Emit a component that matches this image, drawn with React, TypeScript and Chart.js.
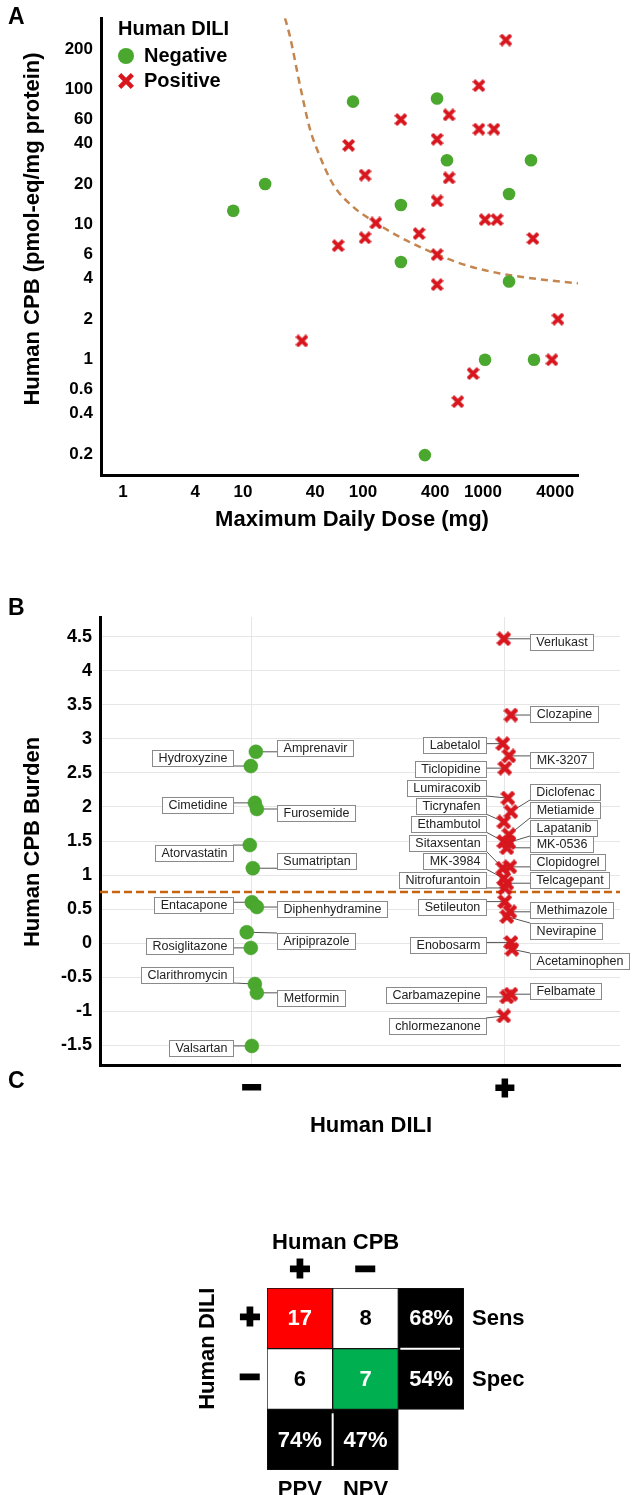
import React, { useEffect, useRef } from 'react';
import { Chart, registerables } from 'chart.js';

Chart.register(...registerables);

const FONT = '"Liberation Sans", Arial, Helvetica, sans-serif';
const GREEN = '#4ba82e';
const RED = '#d7161e';
const CURVE_A = '#c4864e';
const THRESH_B = '#c8640f';

// ---------- Panel A data ----------
const A_X_TICKS = [1, 4, 10, 40, 100, 400, 1000, 4000];
const A_Y_TICKS = [0.2, 0.4, 0.6, 1, 2, 4, 6, 10, 20, 40, 60, 100, 200];
const A_NEG_DOSE = [8.3, 15.3, 82.6, 414, 501, 2512, 1648, 207, 207, 1648, 1040, 2660, 328];
const A_NEG_CPB = [12.7, 20, 81.5, 86, 30, 30, 16.9, 14, 5.3, 3.8, 1.0, 1.0, 0.197];
const A_POS_DOSE = [1550, 926, 207, 521, 926, 1235, 76, 414, 104, 521, 414, 1040, 1309, 128, 104, 62, 293, 2610, 414, 414, 31, 4217, 3758, 826, 617];
const A_POS_CPB = [233, 107, 60, 65, 51, 51, 38.7, 42.9, 23.3, 22.2, 15, 10.9, 10.9, 10.3, 8.0, 7.0, 8.6, 7.9, 6.0, 3.6, 1.38, 2.0, 1.0, 0.79, 0.49];
const A_CURVE_DOSE = [22.4, 24.6, 29.9, 36.2, 41.4, 56.2, 82.5, 131, 215, 414, 779, 1386, 2985, 6190];
const A_CURVE_CPB = [338, 249, 107, 50.8, 36.2, 20.0, 13.6, 10.2, 7.89, 6.02, 4.91, 4.36, 3.94, 3.68];

// ---------- Panel B data ----------
const B_Y_TICKS = [-1.5, -1, -0.5, 0, 0.5, 1, 1.5, 2, 2.5, 3, 3.5, 4, 4.5];
const B_CATEGORIES = ['\u2212', '+'];
const B_THRESHOLD = 0.75;
const B_NEG_NAMES = ['Amprenavir', 'Hydroxyzine', 'Cimetidine', 'Furosemide', 'Atorvastatin', 'Sumatriptan', 'Entacapone', 'Diphenhydramine', 'Aripiprazole', 'Rosiglitazone', 'Clarithromycin', 'Metformin', 'Valsartan'];
const B_NEG_BURDEN = [2.81, 2.60, 2.06, 1.97, 1.44, 1.10, 0.60, 0.53, 0.16, -0.07, -0.60, -0.73, -1.51];
const B_NEG_JITTER = [0.016, -0.004, 0.012, 0.02, -0.008, 0.004, 0, 0.02, -0.02, -0.004, 0.012, 0.02, 0];
const B_POS_NAMES = ['Verlukast', 'Clozapine', 'Labetalol', 'MK-3207', 'Ticlopidine', 'Lumiracoxib', 'Diclofenac', 'Ticrynafen', 'Metiamide', 'Ethambutol', 'Lapatanib', 'MK-0536', 'Sitaxsentan', 'Clopidogrel', 'MK-3984', 'Telcagepant', 'Nitrofurantoin', 'Setileuton', 'Methimazole', 'Nevirapine', 'Enobosarm', 'Acetaminophen', 'Carbamazepine', 'Felbamate', 'chlormezanone'];
const B_POS_BURDEN = [4.47, 3.35, 2.93, 2.75, 2.57, 2.13, 1.93, 1.78, 1.59, 1.49, 1.48, 1.40, 1.10, 1.12, 0.95, 0.88, 0.81, 0.61, 0.46, 0.39, 0.01, -0.09, -0.79, -0.75, -1.07];
const B_POS_JITTER = [-0.004, 0.024, -0.008, 0.016, 0, 0.012, 0.024, -0.004, 0.016, -0.004, 0.016, 0.008, -0.008, 0.02, -0.004, 0.008, 0, 0, 0.02, 0.008, 0.024, 0.028, 0.008, 0.024, -0.004];

// label placement (layout, not data)
const B_NEG_LABEL_SIDE = ['R', 'L', 'L', 'R', 'L', 'R', 'L', 'R', 'R', 'L', 'L', 'R', 'L'];
const B_NEG_LABEL_Y = [2.87, 2.72, 2.03, 1.91, 1.32, 1.21, 0.56, 0.50, 0.03, -0.04, -0.47, -0.81, -1.54];
const B_POS_LABEL_SIDE = ['R', 'R', 'L', 'R', 'L', 'L', 'R', 'L', 'R', 'L', 'R', 'R', 'L', 'R', 'L', 'R', 'L', 'L', 'R', 'R', 'L', 'R', 'L', 'R', 'L'];
const B_POS_LABEL_Y = [4.43, 3.37, 2.91, 2.69, 2.56, 2.28, 2.22, 2.01, 1.96, 1.75, 1.69, 1.46, 1.47, 1.19, 1.21, 0.93, 0.93, 0.53, 0.49, 0.18, -0.03, -0.26, -0.76, -0.71, -1.22];

// ---------- Panel C data ----------
const C_COL_HEADERS = ['+', '\u2212'];
const C_ROW_HEADERS = ['+', '\u2212'];
const C_COUNTS = [[17, 8], [6, 7]];
const C_ROW_METRICS = ['68%', '54%'];
const C_ROW_METRIC_NAMES = ['Sens', 'Spec'];
const C_COL_METRICS = ['74%', '47%'];
const C_COL_METRIC_NAMES = ['PPV', 'NPV'];

function makeCross(size: number, thick: number, color: string) {
  const c = document.createElement('canvas');
  c.width = size;
  c.height = size;
  const ctx = c.getContext('2d')!;
  ctx.strokeStyle = color;
  ctx.lineWidth = thick;
  ctx.lineCap = 'butt';
  const m = thick * 0.36;
  ctx.beginPath();
  ctx.moveTo(m, m);
  ctx.lineTo(size - m, size - m);
  ctx.moveTo(size - m, m);
  ctx.lineTo(m, size - m);
  ctx.stroke();
  return c;
}

function boldSymbol(ctx: CanvasRenderingContext2D, s: string, x: number, y: number, size: number) {
  ctx.save();
  ctx.font = `bold ${size}px ${FONT}`;
  ctx.textAlign = 'center';
  ctx.textBaseline = 'middle';
  ctx.fillStyle = '#000';
  ctx.strokeStyle = '#000';
  ctx.lineWidth = 3;
  ctx.lineJoin = 'miter';
  ctx.fillText(s, x, y);
  ctx.strokeText(s, x, y);
  ctx.restore();
}

function ChartCanvas({ top, height, make }: { top: number; height: number; make: (c: HTMLCanvasElement) => Chart }) {
  const ref = useRef<HTMLCanvasElement>(null);
  useEffect(() => {
    const chart = make(ref.current!);
    return () => chart.destroy();
  }, []);
  return (
    <canvas
      ref={ref}
      width={633}
      height={height}
      style={{ position: 'absolute', left: 0, top, width: 633, height, display: 'block' }}
    />
  );
}

// ---------------- Panel A ----------------
function makeA(canvas: HTMLCanvasElement) {
  const crossA = makeCross(13, 4, RED);
  const crossLegend = makeCross(16, 4.5, RED);
  const plugin = {
    id: 'panelA',
    afterDraw(chart: any) {
      const ctx = chart.ctx as CanvasRenderingContext2D;
      ctx.save();
      ctx.fillStyle = '#000';
      ctx.font = `bold 23px ${FONT}`;
      ctx.textAlign = 'left';
      ctx.textBaseline = 'alphabetic';
      ctx.fillText('A', 8, 24);
      // y title
      ctx.save();
      ctx.translate(33, 229);
      ctx.rotate(-Math.PI / 2);
      ctx.font = `bold 22px ${FONT}`;
      ctx.textAlign = 'center';
      ctx.textBaseline = 'middle';
      ctx.fillText('Human CPB (pmol-eq/mg protein)', 0, 0);
      ctx.restore();
      // x title
      ctx.font = `bold 22px ${FONT}`;
      ctx.textAlign = 'center';
      ctx.textBaseline = 'middle';
      ctx.fillText('Maximum Daily Dose (mg)', 352, 520);
      // legend
      ctx.textAlign = 'left';
      ctx.font = `bold 20px ${FONT}`;
      ctx.fillText('Human DILI', 118, 29);
      ctx.fillStyle = GREEN;
      ctx.beginPath();
      ctx.arc(126, 56, 8, 0, Math.PI * 2);
      ctx.fill();
      ctx.drawImage(crossLegend, 126 - 8, 81 - 8);
      ctx.fillStyle = '#000';
      ctx.fillText('Negative', 144, 56);
      ctx.fillText('Positive', 144, 81);
      ctx.restore();
    },
  };
  const tickFont = { family: FONT, size: 17, weight: 'bold' as const };
  return new Chart(canvas, {
    type: 'scatter',
    data: {
      datasets: [
        {
          label: 'threshold',
          data: A_CURVE_DOSE.map((x, i) => ({ x, y: A_CURVE_CPB[i] })),
          showLine: true,
          borderColor: CURVE_A,
          borderWidth: 2.5,
          borderDash: [7, 5],
          pointRadius: 0,
          cubicInterpolationMode: 'monotone',
          order: 5,
        } as any,
        {
          label: 'Negative',
          data: A_NEG_DOSE.map((x, i) => ({ x, y: A_NEG_CPB[i] })),
          pointStyle: 'circle',
          pointRadius: 6.3,
          backgroundColor: GREEN,
          borderColor: GREEN,
          borderWidth: 0,
          order: 1,
        },
        {
          label: 'Positive',
          data: A_POS_DOSE.map((x, i) => ({ x, y: A_POS_CPB[i] })),
          pointStyle: crossA as any,
          pointRadius: 7,
          order: 0,
        },
      ],
    },
    options: {
      responsive: false,
      animation: false,
      events: [],
      layout: { padding: { top: 15, right: 55, left: 0, bottom: 0 } },
      plugins: { legend: { display: false }, tooltip: { enabled: false } },
      scales: {
        x: {
          type: 'logarithmic',
          min: 0.656,
          max: 6190,
          afterBuildTicks: (ax: any) => {
            ax.ticks = A_X_TICKS.map((v) => ({ value: v }));
          },
          afterFit: (s: any) => {
            s.height = 85;
          },
          ticks: { font: tickFont, color: '#000', padding: 7, autoSkip: false, maxRotation: 0, callback: (v: any) => String(v) },
          grid: { display: false, drawTicks: false },
          border: { display: true, color: '#000', width: 3 },
        },
        y: {
          type: 'logarithmic',
          min: 0.1403,
          max: 338,
          afterBuildTicks: (ax: any) => {
            ax.ticks = A_Y_TICKS.map((v) => ({ value: v }));
          },
          afterFit: (s: any) => {
            s.width = 101;
          },
          ticks: { font: tickFont, color: '#000', padding: 8, autoSkip: false, callback: (v: any) => String(v) },
          grid: { display: false, drawTicks: false },
          border: { display: true, color: '#000', width: 3 },
        },
      },
    },
    plugins: [plugin],
  } as any);
}

// ---------------- Panel B ----------------
function makeB(canvas: HTMLCanvasElement) {
  const crossB = makeCross(15, 4.6, RED);
  const plugin = {
    id: 'panelB',
    beforeDatasetsDraw(chart: any) {
      const ctx = chart.ctx as CanvasRenderingContext2D;
      const xs = chart.scales.x;
      const ys = chart.scales.y;
      ctx.save();
      ctx.font = `12.5px ${FONT}`;
      ctx.textBaseline = 'middle';
      const groups = [
        { ds: 1, names: B_NEG_NAMES, sides: B_NEG_LABEL_SIDE, ly: B_NEG_LABEL_Y, cat: 0 },
        { ds: 2, names: B_POS_NAMES, sides: B_POS_LABEL_SIDE, ly: B_POS_LABEL_Y, cat: 1 },
      ];
      for (const g of groups) {
        const meta = chart.getDatasetMeta(g.ds);
        const cx = xs.getPixelForValue(g.cat);
        g.names.forEach((name, i) => {
          const el = meta.data[i];
          const w = Math.round(ctx.measureText(name).width + 12);
          const h = 16;
          const yc = ys.getPixelForValue(g.ly[i]);
          const L = Math.round(g.sides[i] === 'L' ? cx - 19 - w : cx + 25);
          const T = Math.round(yc - h / 2);
          const nx = Math.max(L, Math.min(el.x, L + w));
          const ny = Math.max(T, Math.min(el.y, T + h));
          ctx.strokeStyle = '#555';
          ctx.lineWidth = 1;
          ctx.beginPath();
          ctx.moveTo(el.x, el.y);
          ctx.lineTo(nx, ny);
          ctx.stroke();
          ctx.fillStyle = '#fff';
          ctx.fillRect(L, T, w, h);
          ctx.strokeStyle = '#8a8a8a';
          ctx.strokeRect(L + 0.5, T + 0.5, w, h);
          ctx.fillStyle = '#222';
          ctx.textAlign = 'center';
          ctx.fillText(name, L + w / 2 + 0.5, T + h / 2 + 1);
        });
      }
      ctx.restore();
    },
    afterDraw(chart: any) {
      const ctx = chart.ctx as CanvasRenderingContext2D;
      ctx.save();
      ctx.fillStyle = '#000';
      ctx.font = `bold 23px ${FONT}`;
      ctx.textAlign = 'left';
      ctx.textBaseline = 'alphabetic';
      ctx.fillText('B', 8, 25);
      ctx.save();
      ctx.translate(33, 252);
      ctx.rotate(-Math.PI / 2);
      ctx.font = `bold 22px ${FONT}`;
      ctx.textAlign = 'center';
      ctx.textBaseline = 'middle';
      ctx.fillText('Human CPB Burden', 0, 0);
      ctx.restore();
      ctx.font = `bold 22px ${FONT}`;
      ctx.textAlign = 'center';
      ctx.textBaseline = 'middle';
      ctx.fillText('Human DILI', 371, 536);
      ctx.restore();
    },
  };
  return new Chart(canvas, {
    type: 'scatter',
    data: {
      datasets: [
        {
          label: 'threshold',
          data: [
            { x: -0.6, y: B_THRESHOLD },
            { x: 1.47, y: B_THRESHOLD },
          ],
          showLine: true,
          borderColor: THRESH_B,
          borderWidth: 2.5,
          borderDash: [8, 4],
          pointRadius: 0,
          order: 5,
        } as any,
        {
          label: 'Negative',
          data: B_NEG_BURDEN.map((y, i) => ({ x: 0 + B_NEG_JITTER[i], y })),
          pointStyle: 'circle',
          pointRadius: 7,
          backgroundColor: GREEN,
          borderColor: '#45a02a',
          borderWidth: 0.5,
          order: 1,
        },
        {
          label: 'Positive',
          data: B_POS_BURDEN.map((y, i) => ({ x: 1 + B_POS_JITTER[i], y })),
          pointStyle: crossB as any,
          pointRadius: 7,
          order: 0,
        },
      ],
    },
    options: {
      responsive: false,
      animation: false,
      events: [],
      layout: { padding: { top: 27, right: 13, left: 0, bottom: 0 } },
      plugins: { legend: { display: false }, tooltip: { enabled: false } },
      scales: {
        x: {
          type: 'linear',
          min: -0.6,
          max: 1.455,
          afterBuildTicks: (ax: any) => {
            ax.ticks = B_CATEGORIES.map((_, i) => ({ value: i }));
          },
          afterFit: (s: any) => {
            s.height = 75;
          },
          ticks: {
            font: { family: FONT, size: 32, weight: 'bold' },
            color: '#000',
            textStrokeColor: '#000',
            textStrokeWidth: 3,
            padding: 5,
            autoSkip: false,
            maxRotation: 0,
            callback: (v: any) => B_CATEGORIES[Math.round(v)] ?? '',
          },
          grid: { display: true, drawTicks: false, color: '#e6e6e6', lineWidth: 1 },
          border: { display: true, color: '#000', width: 3 },
        },
        y: {
          type: 'linear',
          min: -1.79,
          max: 4.79,
          afterBuildTicks: (ax: any) => {
            ax.ticks = B_Y_TICKS.map((v) => ({ value: v }));
          },
          afterFit: (s: any) => {
            s.width = 100;
          },
          ticks: { font: { family: FONT, size: 18, weight: 'bold' }, color: '#000', padding: 8, autoSkip: false, callback: (v: any) => String(v) },
          grid: { display: true, drawTicks: false, color: '#e6e6e6', lineWidth: 1 },
          border: { display: true, color: '#000', width: 3 },
        },
      },
    },
    plugins: [plugin],
  } as any);
}

// ---------------- Panel C ----------------
function makeC(canvas: HTMLCanvasElement) {
  const RED_CELL = '#ff0000';
  const GREEN_CELL = '#00b050';
  const rows = [
    { vals: [String(C_COUNTS[0][0]), String(C_COUNTS[0][1]), C_ROW_METRICS[0]], colors: [RED_CELL, '#ffffff', '#000000'] },
    { vals: [String(C_COUNTS[1][0]), String(C_COUNTS[1][1]), C_ROW_METRICS[1]], colors: ['#ffffff', GREEN_CELL, '#000000'] },
    { vals: [C_COL_METRICS[0], C_COL_METRICS[1], ''], colors: ['#000000', '#000000', '#000000'] },
  ];
  const plugin = {
    id: 'panelC',
    afterDatasetsDraw(chart: any) {
      const ctx = chart.ctx as CanvasRenderingContext2D;
      const xs = chart.scales.x;
      const ys = chart.scales.y;
      const area = chart.chartArea;
      const colW = area.width / 3;
      ctx.save();
      // cell texts
      ctx.font = `bold 22px ${FONT}`;
      ctx.textAlign = 'center';
      ctx.textBaseline = 'middle';
      rows.forEach((r, ri) => {
        const meta = chart.getDatasetMeta(ri);
        r.vals.forEach((v, ci) => {
          const el = meta.data[ci];
          if (!v || !el) return;
          ctx.fillStyle = r.colors[ci] === '#ffffff' ? '#000' : '#fff';
          ctx.fillText(v, el.x, (el.y + el.base) / 2 + 1);
        });
      });
      // white separators
      ctx.strokeStyle = '#fff';
      ctx.lineWidth = 2;
      const c2 = xs.getPixelForValue(2);
      const yMid = ys.getPixelForValue(1);
      ctx.beginPath();
      ctx.moveTo(c2 - colW / 2 + 2, yMid);
      ctx.lineTo(c2 + colW / 2 - 4, yMid);
      ctx.stroke();
      const xMid = (xs.getPixelForValue(0) + xs.getPixelForValue(1)) / 2;
      ctx.beginPath();
      ctx.moveTo(xMid, ys.getPixelForValue(2) + 4);
      ctx.lineTo(xMid, ys.getPixelForValue(3) - 4);
      ctx.stroke();
      // headers
      C_COL_HEADERS.forEach((h, i) => boldSymbol(ctx, h, xs.getPixelForValue(i), area.top - 17, 34));
      C_ROW_HEADERS.forEach((h, i) => boldSymbol(ctx, h, area.left - 17, ys.getPixelForValue(i + 0.5), 34));
      ctx.fillStyle = '#000';
      ctx.font = `bold 22px ${FONT}`;
      ctx.textAlign = 'center';
      ctx.fillText('Human CPB', (xs.getPixelForValue(0) + xs.getPixelForValue(1)) / 2 + 3, area.top - 45);
      ctx.save();
      ctx.translate(area.left - 59, ys.getPixelForValue(1));
      ctx.rotate(-Math.PI / 2);
      ctx.fillText('Human DILI', 0, 0);
      ctx.restore();
      ctx.textAlign = 'left';
      C_ROW_METRIC_NAMES.forEach((n, i) => ctx.fillText(n, area.right + 8, ys.getPixelForValue(i + 0.5) + 1));
      ctx.textAlign = 'center';
      C_COL_METRIC_NAMES.forEach((n, i) => ctx.fillText(n, xs.getPixelForValue(i), area.bottom + 20));
      // panel letter
      ctx.textAlign = 'left';
      ctx.textBaseline = 'alphabetic';
      ctx.font = `bold 23px ${FONT}`;
      ctx.fillText('C', 8, 28);
      ctx.restore();
    },
  };
  const common = { grouped: false, barPercentage: 1, categoryPercentage: 1, borderWidth: 1, borderColor: '#111', borderSkipped: false };
  return new Chart(canvas, {
    type: 'bar',
    data: {
      labels: ['c0', 'c1', 'c2'],
      datasets: rows.map((r, ri) => ({
        ...common,
        label: 'row' + ri,
        data: r.vals.map((v) => (v ? [ri, ri + 1] : null)),
        backgroundColor: r.colors,
      })),
    },
    options: {
      responsive: false,
      animation: false,
      events: [],
      layout: { padding: { left: 267, right: 169, top: 228, bottom: 25 } },
      plugins: { legend: { display: false }, tooltip: { enabled: false } },
      scales: {
        x: { display: false },
        y: { display: false, min: 0, max: 3, reverse: true },
      },
    },
    plugins: [plugin],
  } as any);
}

export default function App() {
  return (
    <div style={{ position: 'absolute', left: 0, top: 0, width: 633, height: 1495, background: '#fff', overflow: 'hidden' }}>
      <ChartCanvas top={0} height={560} make={makeA} />
      <ChartCanvas top={590} height={550} make={makeB} />
      <ChartCanvas top={1060} height={435} make={makeC} />
    </div>
  );
}
